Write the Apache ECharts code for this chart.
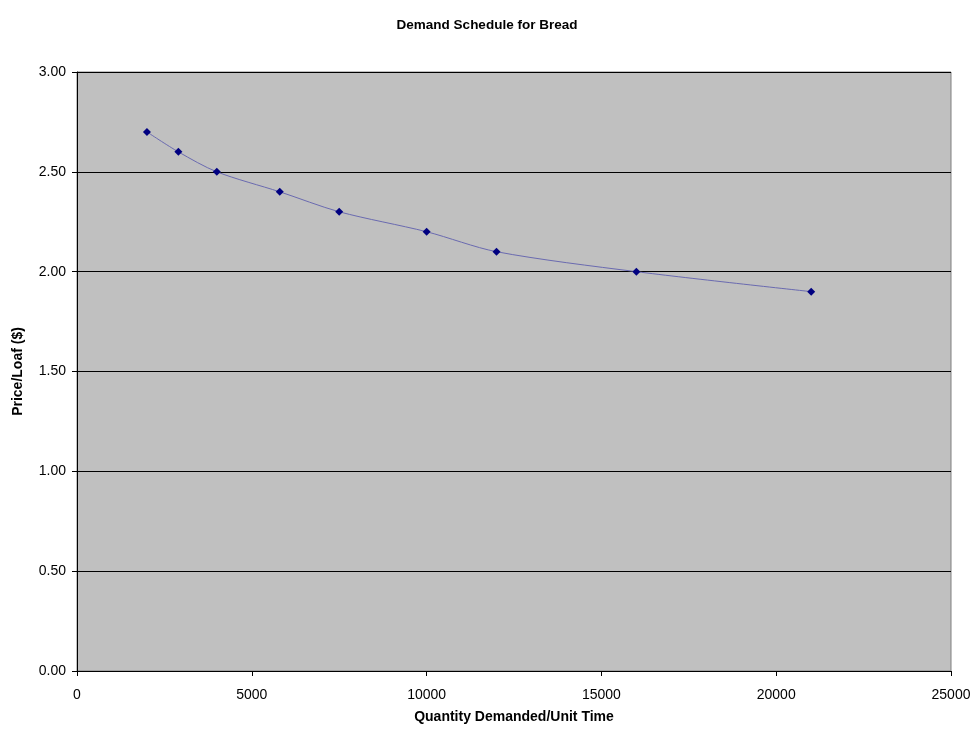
<!DOCTYPE html>
<html>
<head>
<meta charset="utf-8">
<script src="https://cdn.jsdelivr.net/npm/echarts@6/dist/echarts.min.js"></script>
<style>
  html, body { margin: 0; padding: 0; background: #ffffff; }
  #chart { width: 974px; height: 729px; }
</style>
</head>
<body>
<div id="chart"></div>
<script>
// Demand schedule: quantity demanded at each price per loaf
const quantity = [2000, 2900, 4000, 5800, 7500, 10000, 12000, 16000, 21000];
const price = [2.70, 2.60, 2.50, 2.40, 2.30, 2.20, 2.10, 2.00, 1.90];

const points = quantity.map((q, i) => [q, price[i]]);
const FONT = '"Liberation Sans", Arial, sans-serif';

const chart = echarts.init(document.getElementById('chart'), null, { renderer: 'canvas' });
chart.setOption({
  animation: false,
  title: {
    text: 'Demand Schedule for Bread',
    left: 'center',
    top: 13,
    textStyle: { fontFamily: FONT, fontSize: 13.5, fontWeight: 'bold', color: '#000' }
  },
  grid: {
    left: 77, right: 23, top: 72, bottom: 56,
    show: true,
    backgroundColor: '#c0c0c0',
    borderColor: '#808080',
    borderWidth: 1
  },
  xAxis: {
    type: 'value',
    min: 0, max: 25000, interval: 5000,
    name: 'Quantity Demanded/Unit Time',
    nameLocation: 'middle',
    nameGap: 39,
    nameTextStyle: { fontFamily: FONT, fontSize: 14, fontWeight: 'bold', color: '#000' },
    axisLine: { show: true, onZero: false, lineStyle: { color: '#000', width: 1 } },
    axisTick: { show: true, inside: false, length: 5, lineStyle: { color: '#000' } },
    axisLabel: {
      fontFamily: FONT, fontSize: 14, color: '#000', margin: 17,
      formatter: v => String(v)
    },
    splitLine: { show: false }
  },
  yAxis: {
    type: 'value',
    min: 0, max: 3, interval: 0.5,
    name: 'Price/Loaf ($)',
    nameLocation: 'middle',
    nameGap: 52,
    nameTextStyle: { fontFamily: FONT, fontSize: 14, fontWeight: 'bold', color: '#000' },
    axisLine: { show: true, lineStyle: { color: '#000', width: 1 } },
    axisTick: { show: true, inside: false, length: 5, lineStyle: { color: '#000' } },
    axisLabel: {
      fontFamily: FONT, fontSize: 14, color: '#000', margin: 11,
      formatter: v => v.toFixed(2)
    },
    splitLine: { show: true, lineStyle: { color: '#000', width: 1 } }
  },
  series: [{
    type: 'line',
    data: points,
    smooth: 0.3,
    symbol: 'diamond',
    symbolSize: 8,
    itemStyle: { color: '#000080' },
    lineStyle: { color: '#6a6ab0', width: 1 }
  }]
});
</script>
</body>
</html>
